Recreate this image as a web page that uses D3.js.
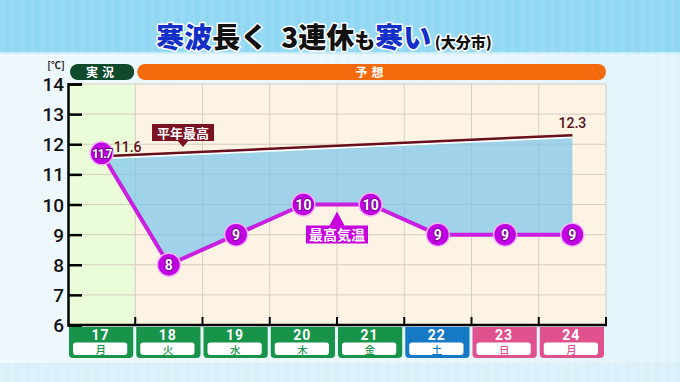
<!DOCTYPE html>
<html>
<head>
<meta charset="utf-8">
<script src="https://cdn.jsdelivr.net/npm/d3@7"></script>
<style>
  body { margin: 0; }
  svg { display: block; font-family: "Noto Sans CJK JP", "Noto Sans", sans-serif; }
</style>
</head>
<body>
<script>
// données
const days = ['17', '18', '19', '20', '21', '22', '23', '24'];
const weekdays = ['月', '火', '水', '木', '金', '土', '日', '月'];
const dayTypes = ['平日', '平日', '平日', '平日', '平日', '土', '日', '祝'];
const maxTemps = [11.7, 8, 9, 10, 10, 9, 9, 9];
const tempLabels = ['11.7', '8', '9', '10', '10', '9', '9', '9'];
const normalDays = ['17', '24'];
const normalTemps = [11.6, 12.3];
const phases = [
  { name: '実況', from: '17', to: '17' },
  { name: '予想', from: '18', to: '24' }
];
const yTicks = [6, 7, 8, 9, 10, 11, 12, 13, 14];

const width = 680;
const height = 382;
const margin = { top: 84, right: 74, bottom: 57, left: 68 };

const typeColor = { '平日': '#17944a', '土': '#1679c6', '日': '#e0528e', '祝': '#e0528e' };

const svg = d3.select('body').append('svg')
  .attr('width', width)
  .attr('height', height);

// fond
const defs = svg.append('defs');
const stripes = defs.append('pattern')
  .attr('id', 'stripes')
  .attr('width', 10).attr('height', 10)
  .attr('patternUnits', 'userSpaceOnUse');
stripes.append('rect').attr('width', 5).attr('height', 10).attr('fill', '#fff').attr('opacity', 0.07);

const bgGrad = defs.append('linearGradient').attr('id', 'bg').attr('x1', 0).attr('x2', 1);
bgGrad.append('stop').attr('offset', 0).attr('stop-color', '#eef8fc');
bgGrad.append('stop').attr('offset', 1).attr('stop-color', '#e2f4fb');

svg.append('rect').attr('width', width).attr('height', height).attr('fill', 'url(#bg)');
svg.append('rect').attr('width', width).attr('height', 52).attr('fill', '#90d7f3');
svg.append('rect').attr('y', 52).attr('width', width).attr('height', 2).attr('fill', '#c9ecf9');
svg.append('rect').attr('y', 363).attr('width', width).attr('height', 19).attr('fill', '#d9f0fa');
svg.append('rect').attr('width', width).attr('height', height).attr('fill', 'url(#stripes)');

// titre
const title = svg.append('text')
  .attr('x', 324)
  .attr('y', 48)
  .attr('text-anchor', 'middle')
  .attr('font-weight', 900)
  .attr('stroke', '#fff')
  .attr('stroke-width', 3)
  .attr('paint-order', 'stroke')
  .attr('stroke-linejoin', 'round');
const titleParts = [
  { t: '寒波', c: '#1230c8', s: 28 },
  { t: '長く\u00a0\u00a03連休', c: '#111', s: 28 },
  { t: 'も', c: '#111', s: 21 },
  { t: '寒い', c: '#1230c8', s: 28 },
  { t: '\u00a0(大分市)', c: '#111', s: 15 }
];
title.selectAll('tspan')
  .data(titleParts)
  .join('tspan')
    .attr('fill', d => d.c)
    .attr('font-size', d => d.s)
    .text(d => d.t);

// échelles
const x = d3.scaleBand()
  .domain(days)
  .range([margin.left, width - margin.right]);

const y = d3.scaleLinear()
  .domain([6, 14])
  .range([height - margin.bottom, margin.top]);

const cx = d => x(d) + x.bandwidth() / 2;

// fond de colonnes
svg.append('g')
  .selectAll('rect')
  .data(days)
  .join('rect')
    .attr('x', d => x(d))
    .attr('y', y(14))
    .attr('width', x.bandwidth())
    .attr('height', y(6) - y(14))
    .attr('fill', (d, i) => i === 0 ? '#ebfcd9' : '#fdf3e5');

// grille
const grid = svg.append('g').attr('stroke', '#d5cdc0').attr('stroke-width', 1);
grid.selectAll('.h')
  .data(yTicks.slice(1))
  .join('line')
    .attr('class', 'h')
    .attr('x1', margin.left).attr('x2', width - margin.right)
    .attr('y1', d => y(d)).attr('y2', d => y(d));
grid.selectAll('.v')
  .data(days.slice(1).concat(['end']))
  .join('line')
    .attr('class', 'v')
    .attr('x1', d => d === 'end' ? width - margin.right : x(d))
    .attr('x2', d => d === 'end' ? width - margin.right : x(d))
    .attr('y1', y(14)).attr('y2', y(6));

// zone entre normale et max
const normalPts = normalDays.map((d, i) => [cx(d), y(normalTemps[i])]);
const tempPts = days.map((d, i) => [cx(d), y(maxTemps[i])]);
svg.append('path')
  .attr('d', d3.line()(normalPts.concat(tempPts.slice().reverse())) + 'Z')
  .attr('fill', '#7cc6ea')
  .attr('opacity', 0.72);

// phases (実況 / 予想)
const phaseG = svg.append('g');
phases.forEach((p, i) => {
  const x0 = x(p.from) + 2;
  const x1 = x(p.to) + x.bandwidth() - (i === 0 ? 1 : 0);
  phaseG.append('rect')
    .attr('x', x0).attr('y', 64)
    .attr('width', x1 - x0).attr('height', 16)
    .attr('rx', 8)
    .attr('fill', i === 0 ? '#0e4a2b' : '#f26a0c');
  phaseG.append('text')
    .attr('x', (x0 + x1) / 2).attr('y', 76.5)
    .attr('text-anchor', 'middle')
    .attr('font-size', 12)
    .attr('font-weight', 700)
    .attr('letter-spacing', 4)
    .attr('fill', '#fff')
    .text(p.name);
});

// axe vertical
const yAxis = svg.append('g')
  .attr('transform', `translate(${margin.left},0)`)
  .call(d3.axisRight(y).tickValues(yTicks).tickSize(14).tickFormat(''))
  .call(g => g.selectAll('line').attr('stroke', '#000').attr('stroke-width', 2.5))
  .call(g => g.select('.domain').attr('stroke', '#000').attr('stroke-width', 2.5));
yAxis.selectAll('.tl')
  .data(yTicks)
  .join('text')
    .attr('class', 'tl')
    .attr('x', -4)
    .attr('y', d => y(d) + 7)
    .attr('text-anchor', 'end')
    .attr('font-family', 'Roboto, sans-serif')
    .attr('font-size', 19)
    .attr('font-weight', 500)
    .attr('fill', '#111')
    .text(d => d);
svg.append('text')
  .attr('x', 56).attr('y', 69)
  .attr('text-anchor', 'middle')
  .attr('font-size', 10)
  .attr('font-weight', 700)
  .attr('fill', '#222')
  .text('[℃]');

// axe horizontal
svg.append('g')
  .attr('transform', `translate(0,${y(6)})`)
  .call(g => g.append('line')
    .attr('x1', margin.left).attr('x2', width - margin.right + 1)
    .attr('stroke', '#000').attr('stroke-width', 2.5))
  .selectAll('.tk')
  .data(days.slice(1).concat(['end']))
  .join('line')
    .attr('class', 'tk')
    .attr('x1', d => d === 'end' ? width - margin.right : x(d))
    .attr('x2', d => d === 'end' ? width - margin.right : x(d))
    .attr('y1', 0).attr('y2', -8)
    .attr('stroke', '#000').attr('stroke-width', 2);

// étiquettes des jours
const dayG = svg.append('g')
  .selectAll('g')
  .data(days)
  .join('g')
    .attr('transform', d => `translate(${x(d)},${y(6) + 2})`);
dayG.append('path')
  .attr('d', () => {
    const w = x.bandwidth() - 3, h = 31, r = 4;
    return `M1,0H${w + 1}V${h - r}Q${w + 1},${h} ${w + 1 - r},${h}H${1 + r}Q1,${h} 1,${h - r}Z`;
  })
  .attr('fill', (d, i) => typeColor[dayTypes[i]]);
dayG.append('text')
  .attr('x', x.bandwidth() / 2 - 1).attr('y', 12.5)
  .attr('text-anchor', 'middle')
  .attr('font-family', 'Roboto, sans-serif')
  .attr('font-size', 14)
  .attr('font-weight', 700)
  .attr('letter-spacing', 1)
  .attr('fill', '#fff')
  .text(d => d);
dayG.append('rect')
  .attr('x', 5).attr('y', 15.5)
  .attr('width', x.bandwidth() - 13).attr('height', 12.5)
  .attr('rx', 3)
  .attr('fill', '#fff');
dayG.append('text')
  .attr('x', x.bandwidth() / 2 - 1).attr('y', 26.5)
  .attr('text-anchor', 'middle')
  .attr('font-size', 10.5)
  .attr('font-weight', 500)
  .attr('fill', (d, i) => typeColor[dayTypes[i]])
  .text((d, i) => weekdays[i]);

// ligne normale
svg.append('path')
  .attr('d', d3.line()(normalPts.map(p => [p[0], p[1] + 2])))
  .attr('stroke', '#fff').attr('stroke-width', 2).attr('fill', 'none');
svg.append('path')
  .attr('d', d3.line()(normalPts))
  .attr('stroke', '#6a0f1c').attr('stroke-width', 2.5).attr('fill', 'none');
svg.selectAll('.nl')
  .data(normalTemps)
  .join('text')
    .attr('class', 'nl')
    .attr('x', (d, i) => i === 0 ? cx(normalDays[i]) + 26 : cx(normalDays[i]))
    .attr('y', (d, i) => y(d) - (i === 0 ? 4 : 7))
    .attr('text-anchor', 'middle')
    .attr('font-family', 'Roboto, sans-serif')
    .attr('font-size', 14)
    .attr('font-weight', 500)
    .attr('fill', '#5a0f1a')
    .text(d => d.toFixed(1));

// étiquette 平年最高
const nLab = svg.append('g').attr('transform', 'translate(183,124)');
nLab.append('rect').attr('x', -31).attr('y', 0).attr('width', 62).attr('height', 17).attr('fill', '#7a1222');
nLab.append('path').attr('d', 'M-6,16L6,16L0,23Z').attr('fill', '#7a1222');
nLab.append('text')
  .attr('y', 13.5).attr('text-anchor', 'middle')
  .attr('font-size', 13).attr('font-weight', 700).attr('fill', '#fff')
  .text('平年最高');

// ligne max
svg.append('path')
  .attr('d', d3.line()(tempPts))
  .attr('stroke', '#c81fe0').attr('stroke-width', 4).attr('fill', 'none')
  .attr('stroke-linejoin', 'round');

// étiquette 最高気温
const mx = (cx('20') + cx('21')) / 2;
const mLab = svg.append('g').attr('transform', `translate(${mx},${y(10)})`);
mLab.append('path').attr('d', 'M-8,22L8,22L0,7Z').attr('fill', '#c800e0');
mLab.append('rect').attr('x', -31).attr('y', 21).attr('width', 62).attr('height', 18).attr('fill', '#c800e0');
mLab.append('text')
  .attr('y', 35.5).attr('text-anchor', 'middle')
  .attr('font-size', 14).attr('font-weight', 700).attr('fill', '#fff')
  .text('最高気温');

// points
const pts = svg.append('g')
  .selectAll('g')
  .data(days)
  .join('g')
    .attr('transform', (d, i) => `translate(${cx(d)},${y(maxTemps[i])})`);
pts.append('circle')
  .attr('r', 11.5)
  .attr('fill', '#c000e2')
  .attr('stroke', '#f2b4fa')
  .attr('stroke-width', 1.5);
pts.append('text')
  .attr('y', 5)
  .attr('text-anchor', 'middle')
  .attr('font-family', 'Roboto, sans-serif')
  .attr('font-size', (d, i) => tempLabels[i].length > 2 ? 12 : 14)
  .attr('letter-spacing', (d, i) => tempLabels[i].length > 2 ? -1.2 : 0)
  .attr('font-weight', 700)
  .attr('fill', '#fff')
  .attr('stroke', '#7a0090')
  .attr('stroke-width', 2)
  .attr('paint-order', 'stroke')
  .text((d, i) => tempLabels[i]);
</script>
</body>
</html>
